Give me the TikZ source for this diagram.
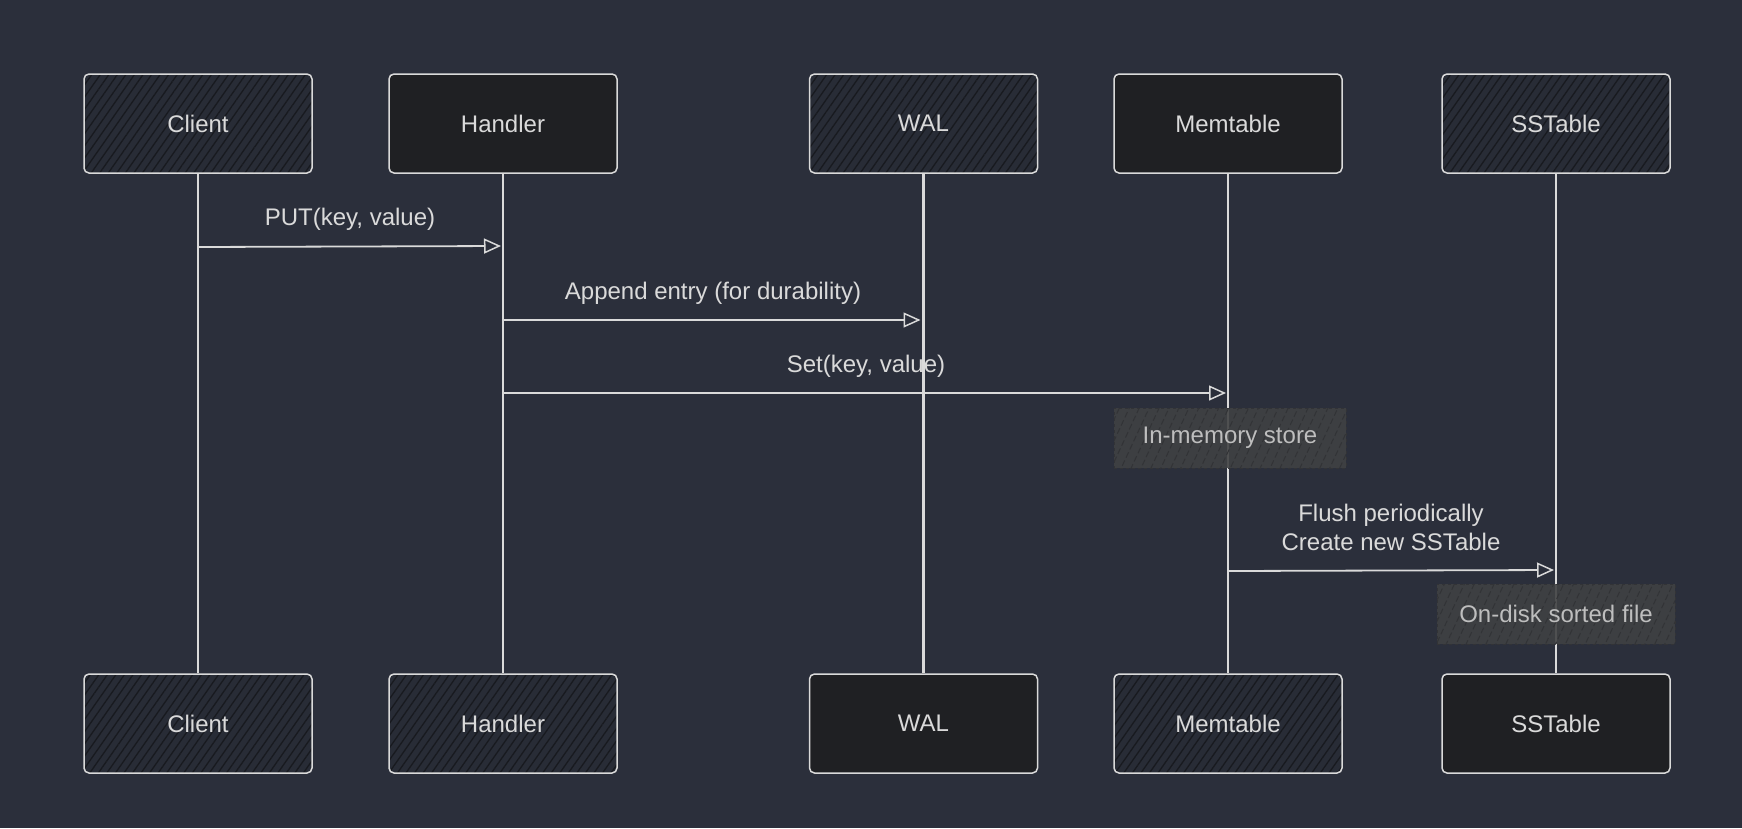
\documentclass[tikz,border=0pt]{standalone}
\usepackage{fontspec}
\setmainfont{Liberation Sans}
\usetikzlibrary{arrows.meta,patterns.meta}
\definecolor{bg}{RGB}{43,47,59}
\definecolor{ink}{RGB}{218,218,218}
\definecolor{hatchbase}{RGB}{40,44,54}
\definecolor{hatchline}{RGB}{24,26,31}
\definecolor{solidbox}{RGB}{31,32,35}
\definecolor{notefill}{RGB}{64,65,67}
\definecolor{noteline}{RGB}{50,51,54}
\definecolor{notetext}{RGB}{190,190,190}
\tikzset{
  actor/.style={draw=ink, line width=1.5pt, rounded corners=5pt, minimum width=228pt, minimum height=99pt, text=ink, font=\fontsize{24}{28}\selectfont, inner sep=0pt},
  hatched/.style={actor, preaction={fill=hatchbase}, pattern={Lines[angle=55,distance=7pt,line width=1.3pt]}, pattern color=hatchline},
  solid/.style={actor, fill=solidbox},
  lifeline/.style={draw=ink, line width=2.2pt},
  thicklife/.style={draw=ink, line width=3.8pt},
  msg/.style={draw=ink, line width=1.8pt, -{Triangle[open, length=17pt, width=15pt, line width=1.5pt]}},
  msglabel/.style={text=ink, font=\fontsize{24}{29}\selectfont, align=center, inner sep=0pt},
  note/.style={minimum height=60pt, inner sep=0pt, text=notetext, font=\fontsize{24}{28}\selectfont, preaction={fill=notefill, fill opacity=0.9}, pattern={Lines[angle=65,distance=9pt,line width=1pt]}, pattern color=noteline, draw=noteline, dashed, line width=1pt},
}
\begin{document}
\begin{tikzpicture}[x=1pt,y=-1pt]
\useasboundingbox[fill=bg] (0,0) rectangle (1742,828);
% top actors
\node[hatched] (c1) at (198,123.5) {Client};
\node[solid]   (h1) at (503,123.5) {Handler};
\node[hatched] (w1) at (923.5,123.5) {WAL};
\node[solid]   (m1) at (1228,123.5) {Memtable};
\node[hatched] (s1) at (1556,123.5) {SSTable};
% bottom actors
\node[hatched] (c2) at (198,723.5) {Client};
\node[hatched] (h2) at (503,723.5) {Handler};
\node[solid]   (w2) at (923.5,723.5) {WAL};
\node[hatched] (m2) at (1228,723.5) {Memtable};
\node[solid]   (s2) at (1556,723.5) {SSTable};
% message labels
\node[msglabel] (l1) at (350,219) {PUT(key, value)};
\node[msglabel] (l2) at (713,293) {Append entry (for durability)};
\node[msglabel] (l3) at (866,366) {Set(key, value)};
\node[msglabel] (l4) at (1391,527) {Flush periodically\\Create new SSTable};
% lifelines
\draw[lifeline]  (c1.south) -- (c2.north);
\draw[lifeline]  (h1.south) -- (h2.north);
\draw[thicklife] (w1.south) -- (w2.north);
\draw[lifeline]  (m1.south) -- (m2.north);
\draw[lifeline]  (s1.south) -- (s2.north);
% messages
\draw[msg] (c1.south |- 0,247) -- ([xshift=-2pt]h1.south |- 0,246);
\draw[msg] (h1.south |- 0,320) -- ([xshift=-3pt]w1.south |- 0,320);
\draw[msg] (h1.south |- 0,393) -- ([xshift=-2pt]m1.south |- 0,393);
\draw[msg] (m1.south |- 0,571) -- ([xshift=-2pt]s1.south |- 0,570);
% notes
\node[note, minimum width=232pt] (n1) at (1230,438) {In-memory store};
\node[note, minimum width=238pt] (n2) at (1556,614) {On-disk sorted file};
\end{tikzpicture}
\end{document}
